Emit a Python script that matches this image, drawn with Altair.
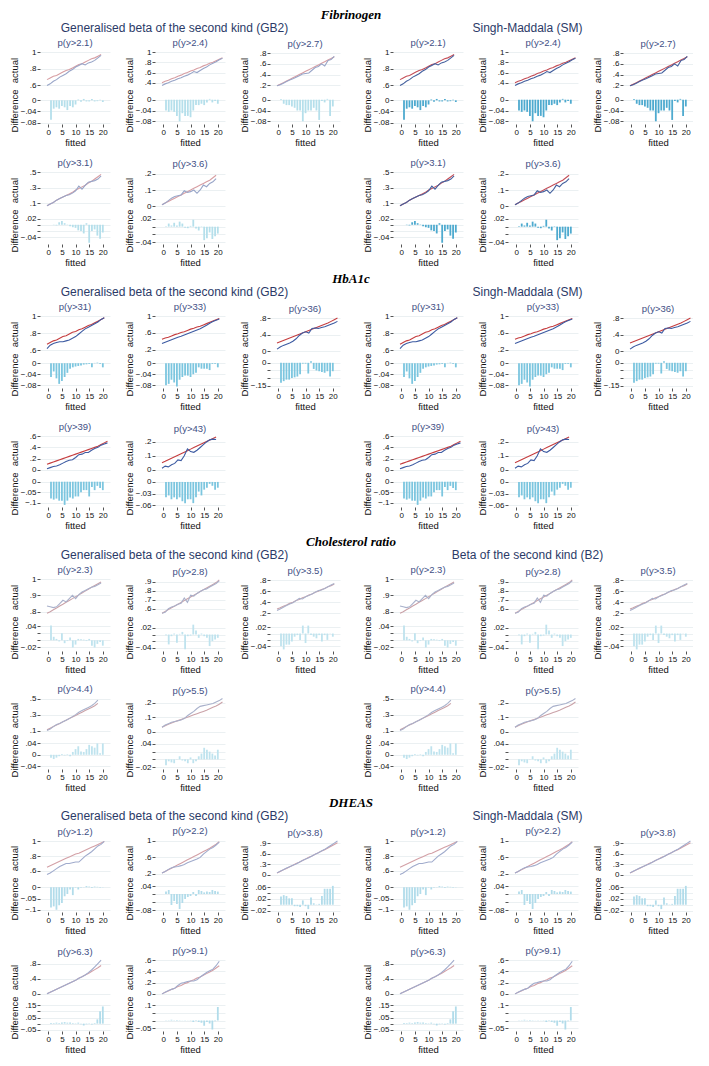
import altair as alt
import pandas as pd

# ---------------- text ----------------
SECTIONS = ["Fibrinogen", "HbA1c", "Cholesterol ratio", "DHEAS"]
LEFT_MODELS = ["Generalised beta of the second kind (GB2)"] * 4
RIGHT_MODELS = ["Singh-Maddala (SM)", "Singh-Maddala (SM)",
                "Beta of the second kind (B2)", "Singh-Maddala (SM)"]
X_TICKS = [0, 5, 10, 15, 20]

FIB_LABELS = ["p(y>2.1)", "p(y>2.4)", "p(y>2.7)", "p(y>3.1)", "p(y>3.6)"]
HBA_LABELS = ["p(y>31)", "p(y>33)", "p(y>36)", "p(y>39)", "p(y>43)"]
CHO_LABELS = ["p(y>2.3)", "p(y>2.8)", "p(y>3.5)", "p(y>4.4)", "p(y>5.5)"]
DHE_LABELS = ["p(y>1.2)", "p(y>2.2)", "p(y>3.8)", "p(y>6.3)", "p(y>9.1)"]

# ---------------- Fibrinogen ----------------
FIB_FIT_21 = [0.67,0.69,0.71,0.72,0.74,0.76,0.78,0.79,0.81,0.83,0.85,0.86,0.88,0.90,0.92,0.93,0.95,0.97]
FIB_ACT_21 = [0.60,0.62,0.65,0.67,0.70,0.72,0.74,0.77,0.79,0.82,0.84,0.86,0.845,0.87,0.88,0.90,0.93,0.96]
FIB_DIF_21 = [-0.070,-0.030,-0.025,-0.030,-0.020,-0.025,-0.035,-0.020,-0.025,-0.015,0.003,-0.005,0.005,-0.004,-0.004,0.005,-0.004,-0.003,0.002,-0.006]
FIB_FIT_24 = [0.40,0.43,0.45,0.48,0.50,0.53,0.55,0.58,0.60,0.63,0.65,0.68,0.70,0.73,0.75,0.78,0.80,0.83,0.86,0.89]
FIB_ACT_24 = [0.35,0.38,0.40,0.43,0.45,0.48,0.50,0.53,0.55,0.58,0.62,0.60,0.64,0.68,0.71,0.75,0.78,0.81,0.85,0.88]
FIB_DIF_24 = [-0.040,-0.045,-0.040,-0.045,-0.060,-0.080,-0.050,-0.060,-0.060,-0.065,-0.040,-0.020,-0.020,-0.015,-0.020,-0.010,0.003,-0.010,-0.005,-0.015]
FIB_FIT_27 = [0.19,0.22,0.25,0.28,0.31,0.34,0.37,0.40,0.43,0.46,0.49,0.52,0.55,0.58,0.61,0.64,0.67,0.70,0.73]
FIB_ACT_27 = [0.19,0.21,0.24,0.27,0.30,0.32,0.35,0.38,0.41,0.42,0.43,0.48,0.53,0.55,0.60,0.56,0.66,0.68,0.74]
FIB_DIF_27 = [0.003,-0.015,-0.020,-0.020,-0.025,-0.030,-0.040,-0.040,-0.080,-0.050,-0.040,-0.040,-0.030,-0.040,-0.075,-0.005,-0.010,0.003,-0.060,-0.025]
FIB_FIT_31 = [0.07,0.09,0.11,0.14,0.16,0.18,0.20,0.22,0.24,0.27,0.29,0.31,0.33,0.36,0.38,0.41,0.44,0.47]
FIB_ACT_31 = [0.07,0.09,0.11,0.14,0.16,0.18,0.20,0.21,0.23,0.26,0.32,0.28,0.33,0.37,0.38,0.39,0.41,0.45]
FIB_DIF_31 = [0.000,-0.001,-0.002,0.008,0.012,0.005,0.001,-0.005,-0.008,-0.010,-0.018,-0.020,-0.028,0.005,-0.058,-0.020,-0.015,-0.035,-0.045,-0.025]
FIB_FIT_36 = [0.010,0.020,0.030,0.040,0.050,0.060,0.070,0.080,0.090,0.100,0.110,0.120,0.130,0.140,0.150,0.160,0.175,0.190]
FIB_ACT_36 = [0.010,0.020,0.035,0.050,0.060,0.065,0.070,0.095,0.085,0.090,0.100,0.080,0.100,0.130,0.120,0.140,0.150,0.170]
FIB_DIF_36 = [0.001,0.008,0.003,0.010,0.003,0.013,0.008,-0.003,-0.004,0.002,0.018,-0.005,-0.010,0.001,-0.035,-0.030,-0.015,-0.032,-0.025,-0.018]
FIB_LINE_TICKS = [[0.6,0.8,1],[0.4,0.6,0.8,1],[0.2,0.4,0.6,0.8],[0.1,0.3,0.5],[0,0.1,0.2]]
FIB_LINE_RANGE = [[0.57,1.0],[0.30,1.0],[0.15,0.82],[0.04,0.5],[-0.01,0.21]]
FIB_DIFF_TICKS = [[0,-0.04,-0.08],[0,-0.04,-0.08],[0,-0.04,-0.08],[0.02,0,-0.02,-0.04],[0.02,0,-0.02,-0.04]]
FIB_DIFF_RANGE = [[-0.085,0.012],[-0.09,0.01],[-0.09,0.01],[-0.062,0.025],[-0.045,0.025]]

# ---------------- HbA1c ----------------
HBA_FIT_31 = [0.67,0.69,0.71,0.72,0.74,0.76,0.77,0.79,0.81,0.82,0.84,0.85,0.87,0.89,0.90,0.92,0.94,0.96,0.98]
HBA_ACT_31 = [0.62,0.66,0.68,0.69,0.70,0.70,0.71,0.72,0.74,0.76,0.79,0.82,0.85,0.87,0.89,0.91,0.93,0.96,0.98]
HBA_DIF_31 = [-0.050,-0.030,-0.055,-0.075,-0.065,-0.050,-0.035,-0.020,-0.015,-0.012,-0.010,-0.008,-0.005,-0.004,-0.003,-0.015,0.001,0.002,-0.003,-0.015]
HBA_FIT_33 = [0.45,0.48,0.50,0.53,0.56,0.58,0.61,0.63,0.66,0.69,0.71,0.74,0.76,0.79,0.82,0.85,0.88,0.91,0.94]
HBA_ACT_33 = [0.35,0.38,0.41,0.44,0.47,0.50,0.52,0.55,0.58,0.61,0.64,0.67,0.70,0.74,0.78,0.83,0.87,0.90,0.93]
HBA_DIF_33 = [-0.080,-0.075,-0.060,-0.070,-0.085,-0.060,-0.050,-0.045,-0.045,-0.050,-0.040,-0.035,-0.015,-0.020,-0.020,-0.020,-0.025,-0.003,-0.003,-0.015]
HBA_FIT_36 = [0.20,0.23,0.26,0.29,0.32,0.35,0.38,0.41,0.44,0.47,0.50,0.53,0.56,0.59,0.62,0.65,0.68,0.72,0.76,0.80]
HBA_ACT_36 = [0.05,0.10,0.14,0.17,0.20,0.24,0.30,0.38,0.44,0.47,0.44,0.55,0.56,0.55,0.57,0.59,0.62,0.65,0.68,0.72]
HBA_DIF_36 = [-0.130,-0.120,-0.110,-0.110,-0.100,-0.095,-0.090,-0.075,-0.005,-0.005,-0.070,0.010,-0.040,-0.050,-0.055,-0.060,-0.065,-0.055,-0.090,-0.055]
HBA_FIT_39 = [0.10,0.12,0.14,0.16,0.18,0.20,0.22,0.24,0.26,0.28,0.30,0.32,0.34,0.36,0.38,0.40,0.42,0.45,0.48,0.51]
HBA_ACT_39 = [0.02,0.04,0.06,0.07,0.09,0.12,0.15,0.17,0.18,0.22,0.27,0.28,0.31,0.31,0.35,0.38,0.40,0.44,0.46,0.48]
HBA_DIF_39 = [-0.080,-0.085,-0.080,-0.090,-0.090,-0.110,-0.090,-0.075,-0.080,-0.070,-0.070,-0.050,-0.040,-0.040,-0.070,-0.025,-0.040,-0.020,-0.030,-0.040]
HBA_FIT_43 = [0.050,0.060,0.071,0.082,0.093,0.104,0.115,0.126,0.137,0.148,0.159,0.170,0.181,0.192,0.203,0.214,0.225,0.236]
HBA_ACT_43 = [0.010,0.025,0.020,0.035,0.045,0.070,0.065,0.100,0.150,0.130,0.125,0.140,0.160,0.180,0.200,0.215,0.220,0.218]
HBA_DIF_43 = [-0.040,-0.035,-0.045,-0.040,-0.045,-0.040,-0.050,-0.055,-0.045,-0.045,-0.055,-0.040,-0.025,-0.035,-0.020,-0.015,-0.005,-0.010,-0.020,-0.015]
HBA_LINE_TICKS = [[0.6,0.8,1],[0.2,0.6,1],[0,0.4,0.8],[0,0.2,0.4,0.6],[0,0.1,0.2]]
HBA_LINE_RANGE = [[0.58,1.0],[0.15,1.0],[-0.02,0.85],[-0.02,0.62],[-0.01,0.25]]
HBA_DIFF_TICKS = [[0,-0.04,-0.08],[0,-0.04,-0.08],[0,-0.05,-0.1,-0.15],[0,-0.05,-0.1],[0,-0.03,-0.06]]
HBA_DIFF_RANGE = [[-0.09,0.008],[-0.09,0.008],[-0.165,0.012],[-0.12,0.008],[-0.065,0.005]]

# ---------------- Cholesterol ratio ----------------
CHO_FIT_23 = [0.790,0.800,0.812,0.823,0.835,0.846,0.858,0.869,0.880,0.892,0.903,0.915,0.926,0.937,0.949,0.960,0.971,0.982]
CHO_ACT_23 = [0.835,0.830,0.825,0.830,0.850,0.870,0.860,0.880,0.900,0.880,0.905,0.920,0.930,0.940,0.950,0.955,0.965,0.975]
CHO_DIF_23 = [0.042,0.010,0.004,-0.003,0.020,-0.008,-0.002,0.008,-0.020,-0.012,0.004,0.003,0.002,-0.002,0.004,-0.015,-0.020,-0.010,-0.005,-0.015]
CHO_FIT_28 = [0.55,0.57,0.59,0.61,0.63,0.65,0.67,0.69,0.71,0.73,0.75,0.77,0.79,0.81,0.83,0.85,0.87,0.89,0.92]
CHO_ACT_28 = [0.55,0.56,0.60,0.62,0.63,0.65,0.66,0.72,0.67,0.75,0.74,0.77,0.79,0.81,0.82,0.84,0.86,0.88,0.91]
CHO_DIF_28 = [-0.002,-0.030,-0.005,0.003,-0.025,0.002,0.008,-0.045,-0.005,-0.003,0.030,0.012,-0.010,0.003,-0.005,-0.010,-0.035,-0.020,-0.015,-0.010]
CHO_FIT_35 = [0.28,0.30,0.33,0.35,0.38,0.40,0.43,0.45,0.48,0.50,0.53,0.55,0.58,0.60,0.63,0.65,0.68,0.70,0.73]
CHO_ACT_35 = [0.25,0.28,0.31,0.34,0.37,0.39,0.43,0.47,0.46,0.50,0.52,0.55,0.58,0.61,0.62,0.65,0.68,0.71,0.74]
CHO_DIF_35 = [-0.040,-0.050,-0.035,-0.035,-0.025,-0.010,-0.005,-0.020,0.025,-0.030,0.025,-0.005,-0.010,-0.015,-0.005,-0.025,-0.005,-0.020,0.001,-0.010]
CHO_FIT_44 = [0.110,0.130,0.150,0.170,0.190,0.210,0.230,0.250,0.270,0.290,0.310,0.330,0.350,0.370,0.390,0.410,0.440]
CHO_ACT_44 = [0.100,0.120,0.150,0.175,0.190,0.210,0.230,0.250,0.275,0.300,0.330,0.350,0.370,0.390,0.410,0.440,0.480]
CHO_DIF_44 = [-0.010,-0.015,-0.010,-0.005,0.003,-0.002,0.002,-0.005,0.010,0.020,0.030,0.012,0.010,0.020,0.035,0.030,0.025,0.040,0.005,0.040]
CHO_FIT_55 = [0.030,0.040,0.050,0.060,0.068,0.076,0.084,0.092,0.100,0.108,0.116,0.124,0.132,0.140,0.148,0.158,0.168,0.178,0.190,0.205]
CHO_ACT_55 = [0.030,0.045,0.055,0.065,0.070,0.075,0.080,0.090,0.110,0.125,0.140,0.160,0.175,0.180,0.185,0.190,0.195,0.205,0.215,0.230]
CHO_DIF_55 = [-0.015,-0.005,-0.008,-0.010,0.001,0.008,-0.003,-0.005,-0.010,0.005,-0.010,-0.005,0.008,0.015,0.030,0.025,0.020,0.015,0.010,0.025]
CHO_LINE_TICKS = [[0.8,0.9,1],[0.6,0.7,0.8,0.9],[0.2,0.4,0.6,0.8],[0.1,0.3,0.5],[0,0.1,0.2]]
CHO_LINE_RANGE = [[0.78,1.0],[0.53,0.93],[0.17,0.82],[0.07,0.52],[-0.01,0.24]]
CHO_DIFF_TICKS = [[0.04,0.02,0,-0.02],[0.02,0,-0.02,-0.04],[0.02,0,-0.02,-0.04],[0.04,0,-0.04],[0.04,0.02,0,-0.02]]
CHO_DIFF_RANGE = [[-0.03,0.046],[-0.05,0.032],[-0.055,0.03],[-0.05,0.045],[-0.025,0.045]]

# ---------------- DHEAS ----------------
DHE_FIT_12 = [0.65,0.67,0.69,0.71,0.73,0.75,0.77,0.79,0.81,0.83,0.84,0.86,0.88,0.90,0.92,0.94,0.96,0.98,1.00]
DHE_ACT_12 = [0.55,0.57,0.60,0.63,0.66,0.68,0.70,0.70,0.71,0.72,0.72,0.76,0.80,0.83,0.86,0.90,0.94,0.96,1.00]
DHE_DIF_12 = [-0.090,-0.085,-0.100,-0.080,-0.070,-0.040,-0.030,-0.010,-0.035,-0.002,-0.010,-0.002,0.001,0.005,0.003,-0.003,0.003,0.002,-0.002,0.001]
DHE_FIT_22 = [0.22,0.26,0.30,0.34,0.38,0.42,0.46,0.50,0.54,0.58,0.62,0.66,0.70,0.74,0.78,0.82,0.87,0.92,0.98]
DHE_ACT_22 = [0.22,0.26,0.31,0.35,0.37,0.38,0.40,0.43,0.47,0.50,0.53,0.56,0.60,0.68,0.74,0.80,0.84,0.90,0.97]
DHE_DIF_22 = [0.012,0.020,-0.055,-0.035,-0.050,-0.075,-0.045,-0.025,-0.015,-0.010,0.010,-0.010,0.020,0.015,0.008,0.012,0.010,0.020,0.015,0.012]
DHE_FIT_38 = [0.05,0.09,0.14,0.18,0.23,0.27,0.32,0.36,0.41,0.45,0.50,0.54,0.59,0.63,0.68,0.72,0.77,0.82,0.87,0.92]
DHE_ACT_38 = [0.05,0.10,0.14,0.19,0.23,0.27,0.31,0.36,0.41,0.45,0.49,0.54,0.59,0.63,0.68,0.73,0.79,0.85,0.91,0.97]
DHE_DIF_38 = [0.028,0.033,0.030,0.022,0.022,-0.005,-0.005,-0.008,0.015,-0.005,-0.015,0.025,0.005,0.001,0.003,0.030,0.055,0.055,0.055,0.065]
DHE_FIT_63 = [0.00,0.04,0.08,0.12,0.16,0.20,0.24,0.28,0.32,0.36,0.41,0.45,0.50,0.54,0.59,0.64,0.69,0.75]
DHE_ACT_63 = [0.00,0.04,0.08,0.12,0.16,0.20,0.24,0.28,0.32,0.36,0.41,0.45,0.50,0.56,0.63,0.71,0.80,0.89]
DHE_DIF_63 = [0.005,0.005,0.008,0.005,0.010,0.012,0.008,0.010,0.005,-0.003,0.008,-0.005,-0.015,-0.005,0.003,-0.008,0.005,0.035,0.100,0.140]
DHE_FIT_91 = [0.00,0.03,0.05,0.08,0.10,0.13,0.15,0.18,0.20,0.23,0.25,0.28,0.30,0.33,0.36,0.39,0.42,0.46,0.50]
DHE_ACT_91 = [0.00,0.03,0.06,0.08,0.10,0.15,0.19,0.20,0.22,0.23,0.23,0.25,0.30,0.34,0.38,0.41,0.44,0.50,0.58]
DHE_DIF_91 = [0.001,0.002,0.005,0.002,0.003,0.002,0.001,0.001,0.001,-0.002,-0.010,-0.003,-0.010,-0.015,-0.035,-0.010,-0.020,-0.060,-0.005,0.090]
DHE_LINE_TICKS = [[0.6,0.8,1],[0.2,0.6,1],[0,0.3,0.6,0.9],[0,0.4,0.8],[0,0.2,0.4,0.6]]
DHE_LINE_RANGE = [[0.53,1.02],[0.15,1.02],[-0.04,1.0],[-0.03,0.92],[-0.02,0.62]]
DHE_DIFF_TICKS = [[0,-0.05,-0.1],[0.04,0,-0.04,-0.08],[0.06,0.04,0.02,0,-0.02],[0.15,0.1,0.05,0,-0.05],[0.1,0.05,0,-0.05]]
DHE_DIFF_RANGE = [[-0.11,0.01],[-0.09,0.045],[-0.025,0.068],[-0.06,0.16],[-0.07,0.11]]

# ---------------- colours ----------------
FIB_GB2_COL = {"fit": "#d79ea3", "act": "#98a5c8", "bar": "#b5dfeb"}
FIB_SM_COL = {"fit": "#c44e57", "act": "#44609e", "bar": "#4eaacf"}
HBA_COL = {"fit": "#c53d3f", "act": "#3d5ba2", "bar": "#7cc6df"}
CHO_COL = {"fit": "#caa2a8", "act": "#a9b1cb", "bar": "#bfe3ee"}
DHE_COL = {"fit": "#d3a0a6", "act": "#a0abcc", "bar": "#b2dcea"}

FONT = "Liberation Sans"
LBL = "replace(format(datum.value, '.2~f'), '0.', '.')"
W, H1, H2 = 70, 36, 27
TITLE_X = -21


def panel(label, fit, act, dif, lt, ld, bt, bd, col):
    line_df = pd.DataFrame({"x": list(range(1, len(fit) + 1)), "fitted": fit, "actual": act})
    bar_df = pd.DataFrame({"x": list(range(1, len(dif) + 1)), "diff": dif})
    xs = alt.Scale(domain=[-1.2, 20.8], nice=False, zero=False)
    ys = alt.Scale(domain=ld, nice=False, zero=False)
    yax = alt.Axis(values=lt, title="actual", labelExpr=LBL, titleX=TITLE_X)
    base = alt.Chart(line_df)
    f = base.mark_line(color=col["fit"], strokeWidth=1.1).encode(
        x=alt.X("x:Q", scale=xs, axis=None),
        y=alt.Y("fitted:Q", scale=ys, axis=yax))
    a = base.mark_line(color=col["act"], strokeWidth=1.1).encode(
        x=alt.X("x:Q", scale=xs, axis=None),
        y=alt.Y("actual:Q", scale=ys, axis=yax))
    top = alt.layer(f, a).properties(
        width=W, height=H1,
        title=alt.TitleParams(label, fontSize=9.5, color="#414f85", font=FONT,
                              fontWeight="normal", anchor="middle", offset=1))
    bars = alt.Chart(bar_df).mark_bar(size=1.8, color=col["bar"]).encode(
        x=alt.X("x:Q", scale=xs, axis=alt.Axis(values=X_TICKS, title="fitted", grid=False)),
        y=alt.Y("diff:Q", scale=alt.Scale(domain=bd, nice=False),
                axis=alt.Axis(values=bt, title="Difference", labelExpr=LBL, titleX=TITLE_X)),
    ).properties(width=W, height=H2)
    return alt.vconcat(top, bars, spacing=9, bounds="flush")


def half(model, labels, fits, acts, difs, lts, lds, bts, bds, col):
    ps = [panel(labels[i], fits[i], acts[i], difs[i], lts[i], lds[i], bts[i], bds[i], col)
          for i in range(5)]
    row1 = alt.hconcat(*ps[:3], spacing=13)
    row2 = alt.hconcat(*ps[3:], spacing=13)
    return alt.vconcat(row1, row2, spacing=10, title=alt.TitleParams(
        model, fontSize=12, color="#2b3a67", font=FONT, fontWeight="normal",
        anchor="middle", offset=3))


def section(name, left, right):
    return alt.hconcat(left, right, spacing=21, title=alt.TitleParams(
        name, font="Liberation Serif", fontStyle="italic", fontWeight="bold",
        fontSize=13, color="black", anchor="middle", offset=0))


FIB = [FIB_LABELS,
       [FIB_FIT_21, FIB_FIT_24, FIB_FIT_27, FIB_FIT_31, FIB_FIT_36],
       [FIB_ACT_21, FIB_ACT_24, FIB_ACT_27, FIB_ACT_31, FIB_ACT_36],
       [FIB_DIF_21, FIB_DIF_24, FIB_DIF_27, FIB_DIF_31, FIB_DIF_36],
       FIB_LINE_TICKS, FIB_LINE_RANGE, FIB_DIFF_TICKS, FIB_DIFF_RANGE]
HBA = [HBA_LABELS,
       [HBA_FIT_31, HBA_FIT_33, HBA_FIT_36, HBA_FIT_39, HBA_FIT_43],
       [HBA_ACT_31, HBA_ACT_33, HBA_ACT_36, HBA_ACT_39, HBA_ACT_43],
       [HBA_DIF_31, HBA_DIF_33, HBA_DIF_36, HBA_DIF_39, HBA_DIF_43],
       HBA_LINE_TICKS, HBA_LINE_RANGE, HBA_DIFF_TICKS, HBA_DIFF_RANGE]
CHO = [CHO_LABELS,
       [CHO_FIT_23, CHO_FIT_28, CHO_FIT_35, CHO_FIT_44, CHO_FIT_55],
       [CHO_ACT_23, CHO_ACT_28, CHO_ACT_35, CHO_ACT_44, CHO_ACT_55],
       [CHO_DIF_23, CHO_DIF_28, CHO_DIF_35, CHO_DIF_44, CHO_DIF_55],
       CHO_LINE_TICKS, CHO_LINE_RANGE, CHO_DIFF_TICKS, CHO_DIFF_RANGE]
DHE = [DHE_LABELS,
       [DHE_FIT_12, DHE_FIT_22, DHE_FIT_38, DHE_FIT_63, DHE_FIT_91],
       [DHE_ACT_12, DHE_ACT_22, DHE_ACT_38, DHE_ACT_63, DHE_ACT_91],
       [DHE_DIF_12, DHE_DIF_22, DHE_DIF_38, DHE_DIF_63, DHE_DIF_91],
       DHE_LINE_TICKS, DHE_LINE_RANGE, DHE_DIFF_TICKS, DHE_DIFF_RANGE]

DATA = [FIB, HBA, CHO, DHE]
COLS = [(FIB_GB2_COL, FIB_SM_COL), (HBA_COL, HBA_COL), (CHO_COL, CHO_COL), (DHE_COL, DHE_COL)]

sections = []
for i, name in enumerate(SECTIONS):
    d = DATA[i]
    left = half(LEFT_MODELS[i], *d, COLS[i][0])
    right = half(RIGHT_MODELS[i], *d, COLS[i][1])
    sections.append(section(name, left, right))

chart = alt.vconcat(*sections, spacing=5).properties(
    padding={"left": 0, "top": 0, "right": 0, "bottom": 0}
).configure_view(stroke=None).configure_axis(
    labelFont=FONT, titleFont=FONT, labelFontSize=8, titleFontSize=9.5,
    labelColor="#111111", titleColor="#111111", titleFontWeight="normal",
    domain=False, tickColor="#555555", tickSize=3, labelPadding=1,
    titlePadding=1, gridColor="#e6ecef", gridWidth=0.8
).configure_axisX(grid=False)

chart.save("out.html", embed_options={"renderer": "svg", "actions": False})
